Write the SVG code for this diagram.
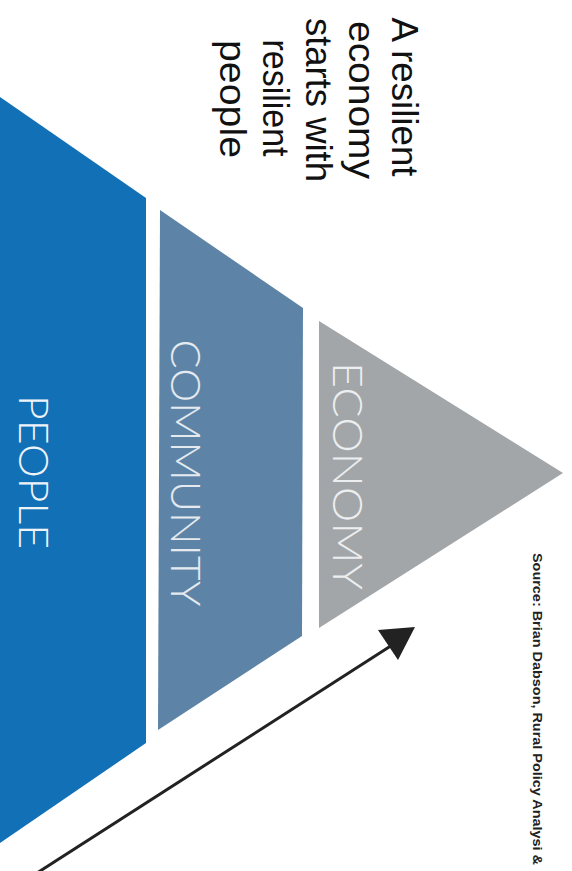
<svg xmlns="http://www.w3.org/2000/svg" width="572" height="871" viewBox="0 0 572 871">
<style>
.lbl{font-family:Lato,"Liberation Sans",sans-serif;font-weight:300;font-size:42px;text-anchor:middle}
.head{font-family:"Liberation Sans",Arial,sans-serif;font-size:36px;fill:#111;text-anchor:middle}
.src{font-family:"Liberation Sans",Arial,sans-serif;font-weight:bold;font-size:13px;fill:#222}
</style>
<rect width="572" height="871" fill="#ffffff"/>
<g id="headline">
<text class="head" transform="translate(392,97) rotate(90)" textLength="159" lengthAdjust="spacingAndGlyphs">A resilient</text>
<text class="head" transform="translate(349,100) rotate(90)" textLength="158" lengthAdjust="spacingAndGlyphs">economy</text>
<text class="head" transform="translate(306,100) rotate(90)" textLength="164" lengthAdjust="spacingAndGlyphs">starts with</text>
<text class="head" transform="translate(263,98) rotate(90)" textLength="117" lengthAdjust="spacingAndGlyphs">resilient</text>
<text class="head" transform="translate(220,99) rotate(90)" textLength="118" lengthAdjust="spacingAndGlyphs">people</text>
</g>
<g id="people">
<polygon points="0,97 146,198 146,743 0,843" fill="#1170b6"/>
<text class="lbl" fill="#eef3f8" transform="translate(19,472) rotate(90)" textLength="154" lengthAdjust="spacingAndGlyphs">PEOPLE</text>
</g>
<g id="community">
<polygon points="160,210 303,308 302,636 158,730" fill="#5d84a7"/>
<text class="lbl" fill="#e4eaef" transform="translate(171,473) rotate(90)" textLength="267" lengthAdjust="spacingAndGlyphs">COMMUNITY</text>
</g>
<g id="economy">
<polygon points="319,321 563,473 319,628" fill="#a2a6a9"/>
<text class="lbl" fill="#eceeef" transform="translate(333,476) rotate(90)" textLength="228" lengthAdjust="spacingAndGlyphs">ECONOMY</text>
</g>
<g id="connectors">
<line x1="37" y1="873" x2="400" y2="640" stroke="#222" stroke-width="3"/>
<polygon points="378,630 415,627 398,660" fill="#222"/>
</g>
<g id="source">
<text class="src" transform="translate(533,709) rotate(90)" text-anchor="middle" textLength="312" lengthAdjust="spacingAndGlyphs">Source: Brian Dabson, Rural Policy Analysi &amp;</text>
</g>
</svg>
